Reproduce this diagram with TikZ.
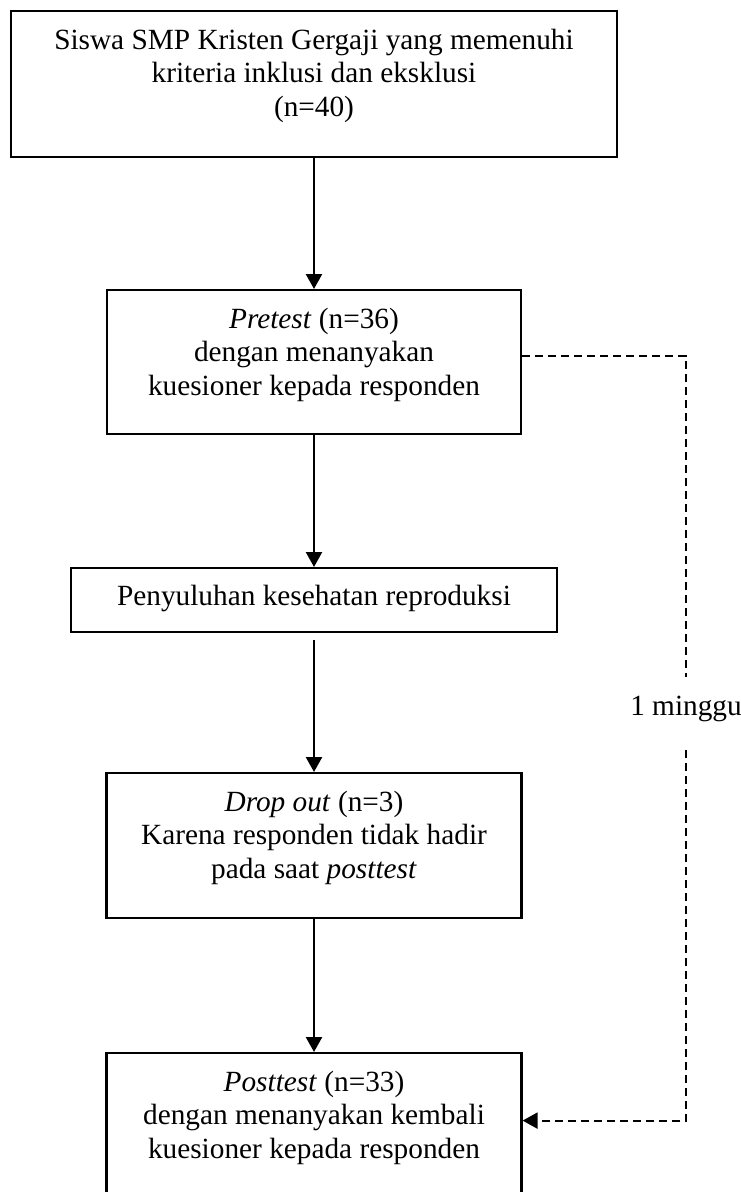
\documentclass[tikz,border=0pt]{standalone}
\usepackage{fontspec}
\setmainfont{Liberation Serif}
\usetikzlibrary{arrows.meta}

\begin{document}
\begin{tikzpicture}[x=1pt, y=-1pt, font={\fontsize{29.3}{33.7}\selectfont},
    kotak/.style={draw, line width=2.2pt, align=center, inner sep=0pt, anchor=north},
    ujung/.style={-{Triangle[length=15pt, width=16pt]}},
    panah/.style={ujung, line width=2.4pt},
    putus/.style={line width=2.2pt, dash pattern=on 8pt off 5pt}]
    \useasboundingbox (0,0) rectangle (741,1192);
    % alur utama
    \node[kotak, minimum width=606pt, text height=105.4pt, text depth=40.6pt] (siswa) at (314,10)
      {Siswa SMP Kristen Gergaji yang memenuhi\\kriteria inklusi dan eksklusi\\(n=40)};
    \node[kotak, minimum width=414pt, text height=105.4pt, text depth=38.6pt] (pre) at (314,289)
      {\textit{Pretest} (n=36)\\dengan menanyakan\\kuesioner kepada responden};
    \node[kotak, minimum width=486pt, text height=37pt, text depth=27pt] (suluh) at (314,567)
      {Penyuluhan kesehatan reproduksi};
    \node[kotak, minimum width=415pt, text height=105.4pt, text depth=39.6pt] (drop) at (314,772)
      {\textit{Drop out} (n=3)\\Karena responden tidak hadir\\pada saat \textit{posttest}};
    \node[kotak, minimum width=415pt, text height=105.4pt, text depth=39.6pt] (post) at (314,1052)
      {\textit{Posttest} (n=33)\\dengan menanyakan kembali\\kuesioner kepada responden};
    \draw[panah] (siswa) -- (pre);
    \draw[panah] (pre) -- (suluh);
    \draw[panah, shorten <=7pt] (suluh) -- (drop);
    \draw[panah] (drop) -- (post);
    % jeda satu minggu
    \coordinate (atas) at (686,677);
    \coordinate (bawah) at (686,750);
    \node[anchor=base] (minggu) at (686,715) {1 minggu};
    \draw[putus] ([yshift=6pt]pre.east) -| (atas);
    \draw[putus, ujung] (bawah) |- ([yshift=5pt]post.east);
\end{tikzpicture}
\end{document}
